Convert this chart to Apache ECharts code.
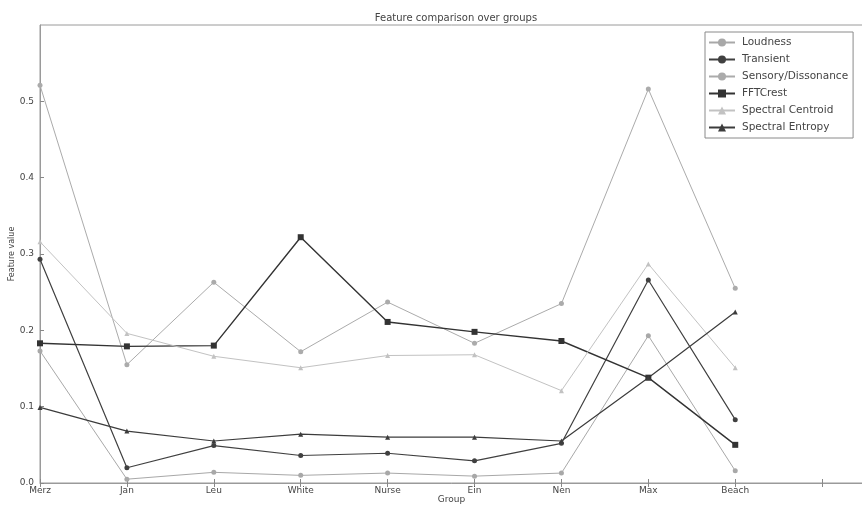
<!DOCTYPE html>
<html>
<head>
<meta charset="utf-8">
<title>Feature comparison over groups</title>
<script src="https://cdn.jsdelivr.net/npm/echarts@6/dist/echarts.min.js"></script>
<style>
  html, body { margin: 0; padding: 0; background: #fff; }
  #chart { width: 862px; height: 505px; }
</style>
</head>
<body>
<div id="chart"></div>
<script>
// Groups along the x axis
var groups = ['Merz', 'Jan', 'Leu', 'White', 'Nurse', 'Ein', 'Nen', 'Max', 'Beach'];

// Feature values per group
var loudness          = [0.173, 0.005, 0.014, 0.010, 0.013, 0.009, 0.013, 0.193, 0.016];
var transient         = [0.293, 0.020, 0.049, 0.036, 0.039, 0.029, 0.052, 0.266, 0.083];
var sensoryDissonance = [0.521, 0.155, 0.263, 0.172, 0.237, 0.183, 0.235, 0.516, 0.255];
var fftCrest          = [0.183, 0.179, 0.180, 0.322, 0.211, 0.198, 0.186, 0.138, 0.050];
var spectralCentroid  = [0.316, 0.196, 0.166, 0.151, 0.167, 0.168, 0.121, 0.287, 0.151];
var spectralEntropy   = [0.099, 0.068, 0.055, 0.064, 0.060, 0.060, 0.055, 0.138, 0.224];

// Y tick positions
var yTicks = [0.0, 0.1, 0.2, 0.3, 0.4, 0.5, 0.6];

var FONT = 'DejaVu Sans';
var TEXT = '#444';

// Legend glyph: a short line with a marker at each end
var dotIcon = 'path://M0,4.5h26v1h-26z M1,5a2.5,2.5 0 1,0 5,0a2.5,2.5 0 1,0 -5,0z M20,5a2.5,2.5 0 1,0 5,0a2.5,2.5 0 1,0 -5,0z';
var bigIcon = 'path://M0,4.3h26v1.4h-26z M0,2h6v6h-6z M20,2h6v6h-6z';
var triIcon = 'path://M0,4.5h26v1h-26z M3.5,2l3,5.5h-6z M22.5,2l3,5.5h-6z';

function pairs(values) {
  return values.map(function (v, i) { return [i, v]; });
}

function line(name, values, color, symbol, size, width, icon) {
  return {
    name: name,
    type: 'line',
    data: pairs(values),
    symbol: symbol,
    symbolSize: size,
    showSymbol: true,
    lineStyle: { color: color, width: width },
    itemStyle: { color: color },
    emphasis: { disabled: true },
    animation: false,
    legendIcon: icon
  };
}

var series = [
  line('Loudness', loudness, '#a8a8a8', 'circle', 5, 1, dotIcon),
  line('Transient', transient, '#404040', 'circle', 5, 1.2, dotIcon),
  line('Sensory/Dissonance', sensoryDissonance, '#ababab', 'circle', 5, 1, dotIcon),
  line('FFTCrest', fftCrest, '#333333', 'rect', 6, 1.4, bigIcon),
  line('Spectral Centroid', spectralCentroid, '#c2c2c2', 'triangle', 5, 1, triIcon),
  line('Spectral Entropy', spectralEntropy, '#3c3c3c', 'triangle', 5, 1.2, triIcon)
];

var chart = echarts.init(document.getElementById('chart'), null, { renderer: 'canvas' });

chart.setOption({
  backgroundColor: '#ffffff',
  animation: false,
  title: {
    text: 'Feature comparison over groups',
    left: 451,
    textAlign: 'center',
    top: 8,
    textStyle: { fontFamily: FONT, fontSize: 10, fontWeight: 'normal', color: TEXT }
  },
  legend: {
    orient: 'vertical',
    left: 705,
    top: 32,
    padding: [5, 5, 5, 3],
    itemWidth: 26,
    itemHeight: 10,
    itemGap: 6,
    backgroundColor: '#ffffff',
    borderColor: '#8a8a8a',
    borderWidth: 1,
    borderRadius: 0,
    textStyle: { fontFamily: FONT, fontSize: 10.5, color: TEXT, padding: [0, 0, 0, 2] },
    data: series.map(function (s) { return s.name; })
  },
  grid: {
    left: 40,
    right: -1,
    top: 25,
    bottom: 22,
    containLabel: false,
    outerBoundsMode: 'none',
    show: true,
    borderColor: '#9a9a9a',
    borderWidth: 1,
    backgroundColor: 'transparent'
  },
  xAxis: [{
    type: 'value',
    min: 0,
    max: 9.47,
    interval: 1,
    name: 'Group',
    nameLocation: 'middle',
    nameGap: 12,
    nameMoveOverlap: false,
    nameTextStyle: { fontFamily: FONT, fontSize: 9, color: TEXT },
    axisLine: { show: true, onZero: false, lineStyle: { color: '#9a9a9a', width: 1 } },
    axisTick: { show: true, inside: true, length: 4, lineStyle: { color: '#888' } },
    splitLine: { show: false },
    axisLabel: {
      fontFamily: FONT, fontSize: 9, color: TEXT, margin: 3,
      showMaxLabel: false,
      formatter: function (v) { return groups[Math.round(v)] || ''; }
    }
  }, {
    type: 'value',
    position: 'top',
    min: 0,
    max: 9.47,
    interval: 1,
    axisLine: { show: false },
    axisTick: { show: true, inside: true, length: 4, lineStyle: { color: '#888' } },
    axisLabel: { show: false },
    splitLine: { show: false }
  }],
  yAxis: {
    type: 'value',
    min: yTicks[0],
    max: yTicks[yTicks.length - 1],
    interval: 0.1,
    name: 'Feature value',
    nameLocation: 'middle',
    nameGap: 24,
    nameMoveOverlap: false,
    nameRotate: 90,
    nameTextStyle: { fontFamily: FONT, fontSize: 8, color: TEXT },
    axisLine: { show: true, lineStyle: { color: '#9a9a9a', width: 1 } },
    axisTick: { show: true, inside: true, length: 4, lineStyle: { color: '#888' } },
    splitLine: { show: false },
    axisLabel: {
      fontFamily: FONT, fontSize: 9, color: TEXT, margin: 6,
      showMaxLabel: false,
      formatter: function (v) { return v.toFixed(1); }
    }
  },
  series: series
});
</script>
</body>
</html>
